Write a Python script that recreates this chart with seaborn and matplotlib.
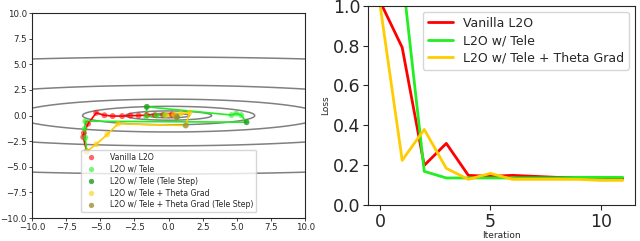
import numpy as np
import pandas as pd
import matplotlib
matplotlib.use("Agg")
import matplotlib.pyplot as plt
import seaborn as sns

# trajectories (x, y)
vanilla_x = [-6.0, -6.25, -6.2, -5.9, -5.3, -4.7, -4.1, -3.4, -2.8, -2.2, -1.6, -1.0, -0.4, 0.25]
vanilla_y = [-3.5, -2.1, -1.7, -0.8, 0.26, 0.03, -0.05, -0.05, 0.0, 0.0, 0.05, 0.05, 0.05, 0.1]

tele_x = [-6.0, -6.1, -6.15, -6.1, 5.7, 5.3, 4.95, 4.6, -1.6, -1.65, -0.9, -0.3, 0.6]
tele_y = [-3.5, -2.15, -1.3, -0.55, -0.65, 0.05, 0.2, 0.05, 0.85, -0.1, 0.0, 0.05, -0.1]
tele_step_idx = [4, 8, 12]

theta_x = [-6.0, -5.3, -4.5, -3.7, 1.25, 1.55, 0.9, 0.4, -0.2, 0.6]
theta_y = [-3.5, -2.8, -1.85, -0.8, -0.97, 0.3, 0.2, 0.1, 0.05, -0.15]
theta_step_idx = [4, 9]

# loss curves (right panel)
iters = list(range(12))
loss_vanilla = [1.02, 0.79, 0.2, 0.31, 0.15, 0.145, 0.15, 0.145, 0.14, 0.14, 0.14, 0.135]
loss_tele = [3.0, 1.16, 0.17, 0.137, 0.137, 0.137, 0.137, 0.137, 0.137, 0.14, 0.14, 0.14]
loss_theta = [1.0, 0.225, 0.38, 0.185, 0.13, 0.16, 0.13, 0.13, 0.13, 0.13, 0.125, 0.125]

# contour levels as semi-axis along y
contour_semi_y = [0.22, 0.45, 0.9, 1.6, 2.95, 5.7]

RED = "#ff0000"
LIME = "#22ee22"
DGREEN = "#1e9a1e"
GOLD = "#ffcc00"
OLIVE = "#a09030"

sns.set_style("ticks")
plt.rcParams["font.family"] = ["DejaVu Sans"]

fig = plt.figure(figsize=(6.4, 2.41), dpi=100)
ax1 = fig.add_axes([0.05, 0.095, 0.427, 0.851])
ax2 = fig.add_axes([0.575, 0.148, 0.417, 0.829])

# ---- left: contours + trajectories
gx, gy = np.meshgrid(np.linspace(-10, 10, 400), np.linspace(-10, 10, 400))
f = gx**2 / 49.0 + gy**2
ax1.contour(gx, gy, f, levels=[s**2 for s in contour_semi_y], colors="#808080", linewidths=1.1)

ax1.plot(vanilla_x, vanilla_y, color=RED, lw=1.2, zorder=3)
ax1.plot(tele_x, tele_y, color=LIME, lw=1.2, zorder=3)
ax1.plot(theta_x, theta_y, color=GOLD, lw=1.2, zorder=3)

ms = 18
sns.scatterplot(x=vanilla_x, y=vanilla_y, color=RED, s=ms, alpha=0.6, edgecolor="none",
                ax=ax1, label="Vanilla L2O", zorder=4)
tele_norm = [i for i in range(len(tele_x)) if i not in tele_step_idx]
sns.scatterplot(x=[tele_x[i] for i in tele_norm], y=[tele_y[i] for i in tele_norm], color=LIME,
                s=ms, alpha=0.6, edgecolor="none", ax=ax1, label="L2O w/ Tele", zorder=4)
sns.scatterplot(x=[tele_x[i] for i in tele_step_idx], y=[tele_y[i] for i in tele_step_idx],
                color=DGREEN, s=ms, alpha=0.8, edgecolor="none", ax=ax1,
                label="L2O w/ Tele (Tele Step)", zorder=4)
theta_norm = [i for i in range(len(theta_x)) if i not in theta_step_idx]
sns.scatterplot(x=[theta_x[i] for i in theta_norm], y=[theta_y[i] for i in theta_norm], color=GOLD,
                s=ms, alpha=0.6, edgecolor="none", ax=ax1, label="L2O w/ Tele + Theta Grad", zorder=4)
sns.scatterplot(x=[theta_x[i] for i in theta_step_idx], y=[theta_y[i] for i in theta_step_idx],
                color=OLIVE, s=ms, alpha=0.8, edgecolor="none", ax=ax1,
                label="L2O w/ Tele + Theta Grad (Tele Step)", zorder=4)

ax1.set_xlim(-10, 10)
ax1.set_ylim(-10, 10)
ax1.set_xticks(np.arange(-10, 10.1, 2.5))
ax1.set_yticks(np.arange(-10, 10.1, 2.5))
ax1.tick_params(labelsize=6.2, length=2.5, width=0.6, pad=1.2)
for sp in ax1.spines.values():
    sp.set_linewidth(0.8)
ax1.legend(loc="lower center", bbox_to_anchor=(0.5, 0.01), fontsize=5.6, markerscale=0.9,
           handletextpad=1.4, borderpad=0.35, labelspacing=0.38, frameon=True)

# ---- right: loss curves
df = pd.DataFrame({
    "Iteration": iters * 3,
    "Loss": loss_vanilla + loss_tele + loss_theta,
    "Method": ["Vanilla L2O"] * 12 + ["L2O w/ Tele"] * 12 + ["L2O w/ Tele + Theta Grad"] * 12,
})
sns.lineplot(data=df, x="Iteration", y="Loss", hue="Method",
             palette={"Vanilla L2O": RED, "L2O w/ Tele": LIME, "L2O w/ Tele + Theta Grad": GOLD},
             lw=2, ax=ax2)
ax2.set_ylim(0, 1.0)
ax2.set_xlim(-0.55, 11.55)
ax2.set_xticks([0, 5, 10])
ax2.set_yticks(np.arange(0, 1.01, 0.2))
ax2.tick_params(labelsize=12.5, length=3.5, width=0.8, pad=2)
ax2.set_xlabel("Iteration", fontsize=6.5, labelpad=0)
ax2.set_ylabel("Loss", fontsize=6.5, labelpad=2)
for sp in ax2.spines.values():
    sp.set_linewidth(0.8)
ax2.legend(loc="upper right", fontsize=9, title=None, handlelength=2.0, borderpad=0.4,
           labelspacing=0.35, frameon=True)

fig.savefig("out.png", dpi=100)
